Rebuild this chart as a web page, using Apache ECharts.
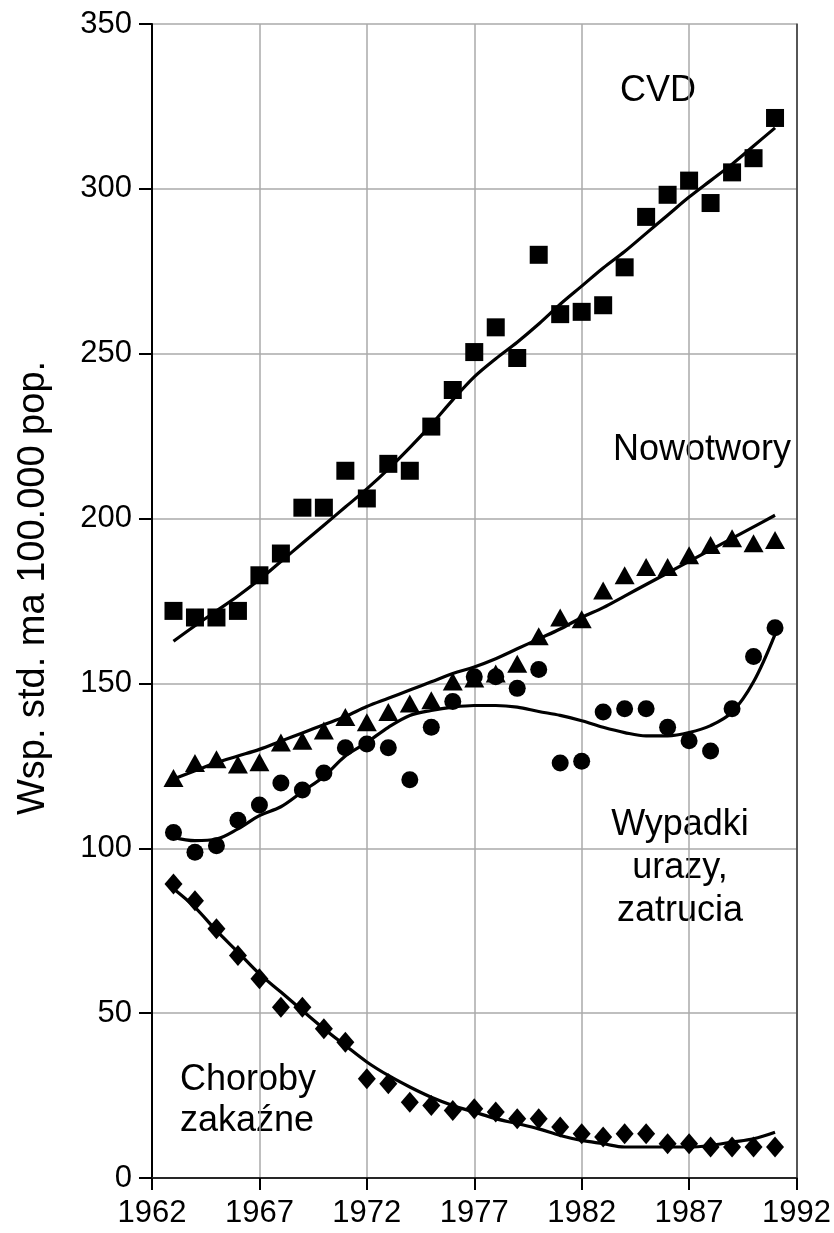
<!DOCTYPE html>
<html>
<head>
<meta charset="utf-8">
<script src="https://cdn.jsdelivr.net/npm/echarts@6/dist/echarts.min.js"></script>
<style>
html,body{margin:0;padding:0;background:#fff;}
#chart{width:834px;height:1233px;}
</style>
</head>
<body>
<div id="chart"></div>
<script>
// ---- data ----
const years = [1963,1964,1965,1966,1967,1968,1969,1970,1971,1972,1973,1974,1975,1976,1977,1978,1979,1980,1981,1982,1983,1984,1985,1986,1987,1988,1989,1990,1991];

const cvdPoints = [172,170,170,172,182.8,189.4,203.3,203.3,214.5,206.1,216.6,214.5,227.9,239,250.5,258,248.7,280,262,262.7,264.7,276.2,291.5,298.2,302.5,295.7,305,309.3,321.5];
const cvdTrend  = [162.8,167.5,172,176.5,181.5,187,192.5,198,203.5,209,215,221.5,228.5,236,243,248.5,253.5,259,265,270.5,276,281,286.5,292,297.5,302.5,307.5,313,318.5];

const nowPoints = [121.3,125.9,127,125.4,126.1,132.1,132.6,135.7,139.8,138.2,141.3,143.9,144.9,150.6,151.5,153,156,164.3,170,169.5,178.2,182.8,185.3,185.3,188.9,192,194,192.5,193.5];
const nowTrend  = [121,123.5,126,128,130,132.5,135,137.5,140,143,145.5,148,150.5,153,155,157.5,160.5,163.5,166.5,170,173,176.5,180,183.5,187,190.5,194,197.5,201];

const wypPoints = [104.8,98.8,100.8,108.5,113.1,119.8,117.7,122.8,130.5,131.6,130.5,120.8,136.7,144.5,152,152,148.5,154.2,125.9,126.4,141.3,142.3,142.3,136.7,132.6,129.5,142.3,158.2,166.9];
const wypTrend  = [103.3,102.3,102.8,105.9,109.9,112.6,117.2,121.8,128,132.1,136.7,140.3,141.8,142.8,143.3,143.3,142.8,141.5,140.3,138.7,136.7,135.1,134.1,134.1,135.1,137.2,141.3,150.5,164.9];

const chorPoints = [89.2,84.1,75.6,67.5,60.4,51.8,51.8,45.3,41.2,30.1,28.6,23,22,20.5,21,20,18,18,15.5,13.4,12.4,13.4,13.4,10.4,10.4,9.4,9.4,9.4,9.4];
const chorTrend  = [87.7,82.1,75,68.5,61.9,56.4,50.8,45.3,40.2,35.2,31.1,27.6,24.5,22,20,18,16.5,14.9,12.9,11.4,10.4,9.4,9.4,9.4,9.4,9.9,10.9,11.9,13.9];

const xTicks = {min:1962, max:1992, step:5};
const yTicks = {min:0, max:350, step:50};
const yTitle = 'Wsp. std. ma 100.000 pop.';
const seriesLabels = ['CVD','Nowotwory','Wypadki\nurazy,\nzatrucia','Choroby\nzakaźne'];

// ---- chart ----
const FONT = '"Liberation Sans", Arial, Helvetica, sans-serif';
const pair = arr => years.map((y,i)=>[y,arr[i]]);

const chart = echarts.init(document.getElementById('chart'), null, {renderer:'canvas'});

function scatter(data, symbol, size){
  return {type:'scatter', data:pair(data), symbol:symbol, symbolSize:size,
          itemStyle:{color:'#000', opacity:1}, z:3, silent:true};
}
function trend(data){
  return {type:'line', data:pair(data), smooth:0.35, showSymbol:false, symbol:'none',
          lineStyle:{color:'#000', width:3.2}, z:4, silent:true};
}

chart.setOption({
  animation:false,
  backgroundColor:'#fff',
  grid:{left:152, right:36, top:24, bottom:55},
  xAxis:[{
    type:'value', min:xTicks.min, max:xTicks.max, interval:xTicks.step,
    axisLine:{show:true, onZero:false, lineStyle:{color:'#000', width:2}},
    axisTick:{show:true, length:12, lineStyle:{color:'#000', width:2}},
    axisLabel:{color:'#000', fontSize:31, fontFamily:FONT, margin:20, formatter:v=>String(v)},
    splitLine:{show:true, lineStyle:{color:'#aaa', width:1.5}}
  },{
    type:'value', position:'top', min:xTicks.min, max:xTicks.max,
    axisLine:{show:true, lineStyle:{color:'#333', width:1.5}},
    axisTick:{show:false}, axisLabel:{show:false}, splitLine:{show:false}
  }],
  yAxis:[{
    type:'value', min:yTicks.min, max:yTicks.max, interval:yTicks.step,
    axisLine:{show:true, onZero:false, lineStyle:{color:'#000', width:2}},
    axisTick:{show:true, length:13, lineStyle:{color:'#000', width:2}},
    axisLabel:{color:'#000', fontSize:31, fontFamily:FONT, margin:20, formatter:v=>String(v)},
    splitLine:{show:true, lineStyle:{color:'#aaa', width:1.5}}
  },{
    type:'value', position:'right', min:yTicks.min, max:yTicks.max,
    axisLine:{show:true, lineStyle:{color:'#333', width:1.5}},
    axisTick:{show:false}, axisLabel:{show:false}, splitLine:{show:false}
  }],
  graphic:[
    {type:'text', x:34, y:588, rotation:Math.PI/2,
     style:{text:yTitle, font:'38px '+FONT, fill:'#000', align:'center', verticalAlign:'middle'}},
    {type:'text', x:658, y:91,
     style:{text:seriesLabels[0], font:'36px '+FONT, fill:'#000', align:'center', verticalAlign:'middle'}},
    {type:'text', x:702, y:450,
     style:{text:seriesLabels[1], font:'36px '+FONT, fill:'#000', align:'center', verticalAlign:'middle'}},
    {type:'text', x:680, y:868,
     style:{text:seriesLabels[2], font:'36px '+FONT, lineHeight:43, fill:'#000', align:'center', verticalAlign:'middle'}},
    {type:'text', x:180, y:1101,
     style:{text:seriesLabels[3], font:'36px '+FONT, lineHeight:41, fill:'#000', align:'left', verticalAlign:'middle'}}
  ],
  series:[
    scatter(cvdPoints,'rect',18), trend(cvdTrend),
    scatter(nowPoints,'triangle',[20,18]), trend(nowTrend),
    scatter(wypPoints,'circle',17), trend(wypTrend),
    scatter(chorPoints,'diamond',[18,21]), trend(chorTrend)
  ]
});
</script>
</body>
</html>
